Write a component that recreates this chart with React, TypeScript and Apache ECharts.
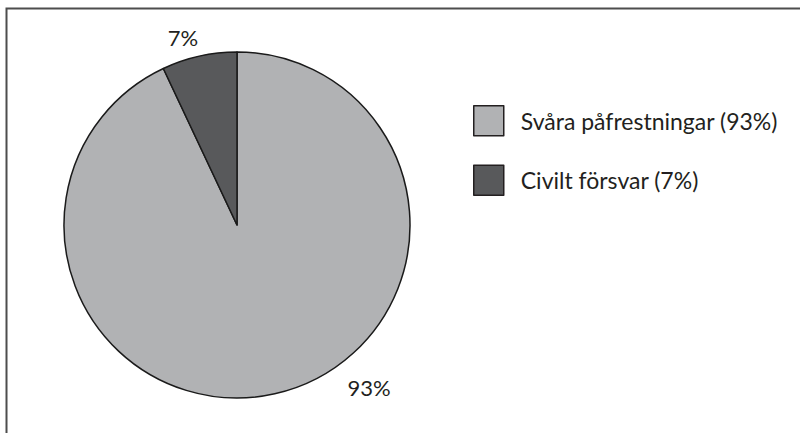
import React, { useEffect, useRef } from "react";
import * as echarts from "echarts";

const categories = ["Svåra påfrestningar", "Civilt försvar"];
const values = [93, 7];
const colors = ["#b1b2b4", "#58595b"];

export default function App() {
  const ref = useRef<HTMLDivElement>(null);
  useEffect(() => {
    document.body.style.margin = "0";
    const chart = echarts.init(ref.current!, null, { renderer: "svg" });
    const font = "Lato";
    chart.setOption({
      animation: false,
      backgroundColor: "#ffffff",
      legend: {
        orient: "vertical",
        left: 468,
        top: 100,
        itemWidth: 30,
        itemHeight: 30,
        itemGap: 28,
        icon: "rect",
        selectedMode: false,
        itemStyle: { borderColor: "#231f20", borderWidth: 1.5 },
        textStyle: {
          fontFamily: font,
          fontSize: 23,
          color: "#231f20",
          padding: [0, 0, 0, 12],
        },
        formatter: (name: string) => {
          const i = categories.indexOf(name);
          return `${name} (${values[i]}%)`;
        },
      },
      graphic: [
        {
          type: "polyline",
          silent: true,
          shape: { points: [[6.5, 440], [6.5, 8.5], [810, 8.5]] },
          style: { stroke: "#4d4d4d", lineWidth: 2, fill: "none" },
        },
      ],
      series: [
        {
          type: "pie",
          center: [237, 225],
          radius: 173,
          startAngle: 90,
          clockwise: true,
          avoidLabelOverlap: false,
          itemStyle: { borderColor: "#1a1a1a", borderWidth: 1.5 },
          label: {
            show: true,
            position: "outside",
            fontFamily: font,
            fontSize: 22,
            color: "#231f20",
            formatter: (p: any) => `${p.value}%`,
          },
          labelLine: { show: false },
          labelLayout: (p: any) => {
            const pos = [
              [369, 387],
              [183, 37],
            ];
            return {
              x: pos[p.dataIndex][0],
              y: pos[p.dataIndex][1],
              align: "center",
              verticalAlign: "middle",
            };
          },
          data: categories.map((c, i) => ({
            name: c,
            value: values[i],
            itemStyle: { color: colors[i] },
          })),
        },
      ],
    });
    return () => chart.dispose();
  }, []);
  return (
    <div
      ref={ref}
      style={{ position: "absolute", left: 0, top: 0, width: 800, height: 433 }}
    />
  );
}
